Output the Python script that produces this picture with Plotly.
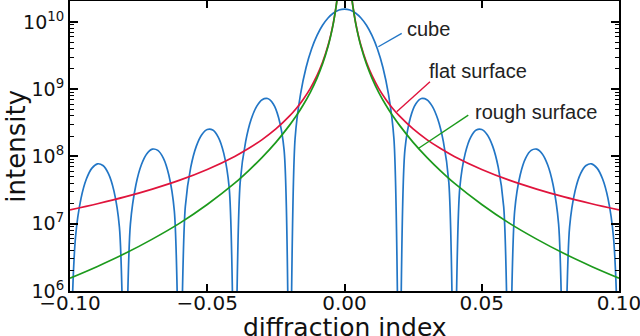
import plotly.graph_objects as go

# cube intensity sampled every 0.002 from -0.10 to 0.10 (zeros drawn as very small values)
cube_left = [3e4, 6.24e6, 2.36e7, 4.65e7, 6.71e7, 7.76e7, 7.34e7, 5.56e7, 3.08e7, 8.92e6,
             3e4, 9.86e6, 3.76e7, 7.51e7, 1.096e8, 1.282e8, 1.229e8, 9.44e7, 5.30e7, 1.56e7,
             3e4, 1.78e7, 6.92e7, 1.41e8, 2.10e8, 2.51e8, 2.47e8, 1.94e8, 1.12e8, 3.40e7,
             3e4, 4.15e7, 1.67e8, 3.56e8, 5.55e8, 6.98e8, 7.25e8, 6.08e8, 3.77e8, 1.24e8,
             3e4, 1.85e8, 8.48e8, 2.10e9, 3.95e9, 6.28e9, 8.88e9, 1.142e10, 1.356e10, 1.50e10]
cube_center = [1.55e10]
cube_right = [1.50e10, 1.356e10, 1.142e10, 8.88e9, 6.28e9, 3.95e9, 2.10e9, 8.48e8, 1.85e8, 3e4,
              1.24e8, 3.77e8, 6.08e8, 7.25e8, 6.98e8, 5.55e8, 3.56e8, 1.67e8, 4.15e7, 3e4,
              3.40e7, 1.12e8, 1.94e8, 2.47e8, 2.51e8, 2.10e8, 1.41e8, 6.92e7, 1.78e7, 3e4,
              1.56e7, 5.30e7, 9.44e7, 1.229e8, 1.282e8, 1.096e8, 7.51e7, 3.76e7, 9.86e6, 3e4,
              8.92e6, 3.08e7, 5.56e7, 7.34e7, 7.76e7, 6.71e7, 4.65e7, 2.36e7, 6.24e6, 3e4]
cube = cube_left + cube_center + cube_right

x_surface = [-0.1, -0.09, -0.08, -0.07, -0.06, -0.05, -0.04, -0.035, -0.03, -0.025, -0.02,
             -0.0175, -0.015, -0.0125, -0.01, -0.008, -0.006, -0.005, -0.004, -0.003, -0.0025,
             None,
             0.0025, 0.003, 0.004, 0.005, 0.006, 0.008, 0.01, 0.0125, 0.015, 0.0175,
             0.02, 0.025, 0.03, 0.035, 0.04, 0.05, 0.06, 0.07, 0.08, 0.09, 0.1]
flat = [1.6e7, 1.98e7, 2.5e7, 3.27e7, 4.44e7, 6.4e7, 1.0e8, 1.31e8, 1.78e8, 2.56e8, 4.0e8,
        5.2e8, 7.1e8, 1.02e9, 1.6e9, 2.5e9, 4.44e9, 6.4e9, 1.0e10, 1.78e10, 2.56e10,
        None,
        2.56e10, 1.78e10, 1.0e10, 6.4e9, 4.44e9, 2.5e9, 1.6e9, 1.02e9, 7.1e8, 5.2e8,
        4.0e8, 2.56e8, 1.78e8, 1.31e8, 1.0e8, 6.4e7, 4.44e7, 3.27e7, 2.5e7, 1.98e7, 1.6e7]
rough = [1.55e6, 2.32e6, 3.6e6, 5.9e6, 1.02e7, 1.93e7, 4.0e7, 6.1e7, 9.7e7, 1.62e8, 2.92e8,
         4.05e8, 5.87e8, 8.9e8, 1.46e9, 2.36e9, 4.30e9, 6.25e9, 9.85e9, 1.76e10, 2.55e10,
         None,
         2.55e10, 1.76e10, 9.85e9, 6.25e9, 4.30e9, 2.36e9, 1.46e9, 8.9e8, 5.87e8, 4.05e8,
         2.92e8, 1.62e8, 9.7e7, 6.1e7, 4.0e7, 1.93e7, 1.02e7, 5.9e6, 3.6e6, 2.32e6, 1.55e6]

y_tickvals = [1e6, 1e7, 1e8, 1e9, 1e10]
y_ticktext = ["10<sup>6</sup>", "10<sup>7</sup>", "10<sup>8</sup>", "10<sup>9</sup>", "10<sup>10</sup>"]
x_tickvals = [-0.10, -0.05, 0.00, 0.05, 0.10]
x_ticktext = ["\u22120.10", "\u22120.05", "0.00", "0.05", "0.10"]

BLUE = "#2276c6"
RED = "#e0143c"
GREEN = "#1c9a1c"

fig = go.Figure()
fig.add_trace(go.Scatter(x0=-0.1, dx=0.002, y=cube, mode="lines",
                         line=dict(color=BLUE, width=1.7, shape="spline", smoothing=1)))
fig.add_trace(go.Scatter(x=x_surface, y=flat, mode="lines",
                         line=dict(color=RED, width=1.7, shape="spline", smoothing=1)))
fig.add_trace(go.Scatter(x=x_surface, y=rough, mode="lines",
                         line=dict(color=GREEN, width=1.7, shape="spline", smoothing=1)))

# labels with pointer lines (paper coordinates)
labels = [("cube", 0.610, 0.905, BLUE, (0.6042, 0.8885, 0.5616, 0.8423)),
          ("flat surface", 0.650, 0.760, RED, (0.6557, 0.7214, 0.5951, 0.6179)),
          ("rough surface", 0.734, 0.617, GREEN, (0.7255, 0.6065, 0.6344, 0.4915))]
for text, tx, ty, col, (x0, y0, x1, y1) in labels:
    fig.add_annotation(text=text, x=tx, y=ty, xref="paper", yref="paper",
                       xanchor="left", yanchor="middle", showarrow=False,
                       font=dict(family="Liberation Sans, Arial", size=20, color="#222"))
    fig.add_shape(type="line", xref="paper", yref="paper", x0=x0, y0=y0, x1=x1, y1=y1,
                  line=dict(color=col, width=1.4))

# axis titles
fig.add_annotation(text="diffraction index", x=0.5, y=-0.126, xref="paper", yref="paper",
                   xanchor="center", yanchor="middle", showarrow=False,
                   font=dict(family="DejaVu Sans", size=25, color="#111"))
fig.add_annotation(text="intensity", x=-0.1, y=0.498, xref="paper", yref="paper",
                   xanchor="center", yanchor="middle", showarrow=False, textangle=-90,
                   font=dict(family="DejaVu Sans", size=26, color="#111"))

fig.update_layout(
    width=640, height=336,
    margin=dict(l=70, r=21, t=1, b=45),
    paper_bgcolor="white", plot_bgcolor="white",
    showlegend=False,
    font=dict(family="DejaVu Sans", color="#111"),
)
fig.update_xaxes(range=[-0.1, 0.1], tickvals=x_tickvals, ticktext=x_ticktext,
                 ticks="inside", ticklen=7, tickwidth=1.5, tickcolor="black",
                 showline=True, linecolor="black", linewidth=2, mirror="ticks",
                 showgrid=False, zeroline=False, automargin=False,
                 ticklabeloverflow="allow", ticklabelstandoff=-7,
                 tickfont=dict(size=20))
fig.update_yaxes(type="log", range=[6, 10.31], tickvals=y_tickvals, ticktext=y_ticktext,
                 ticks="inside", ticklen=8, tickwidth=1.5, tickcolor="black",
                 minor=dict(ticks="inside", ticklen=4, tickcolor="black", tickwidth=1,
                            dtick="D1", showgrid=False),
                 showline=True, linecolor="black", linewidth=2, mirror="ticks",
                 showgrid=False, zeroline=False, automargin=False,
                 ticklabeloverflow="allow",
                 tickfont=dict(size=19))

fig.write_html("out.html", config={"displayModeBar": False},
               post_script="document.body.style.margin='0';")
